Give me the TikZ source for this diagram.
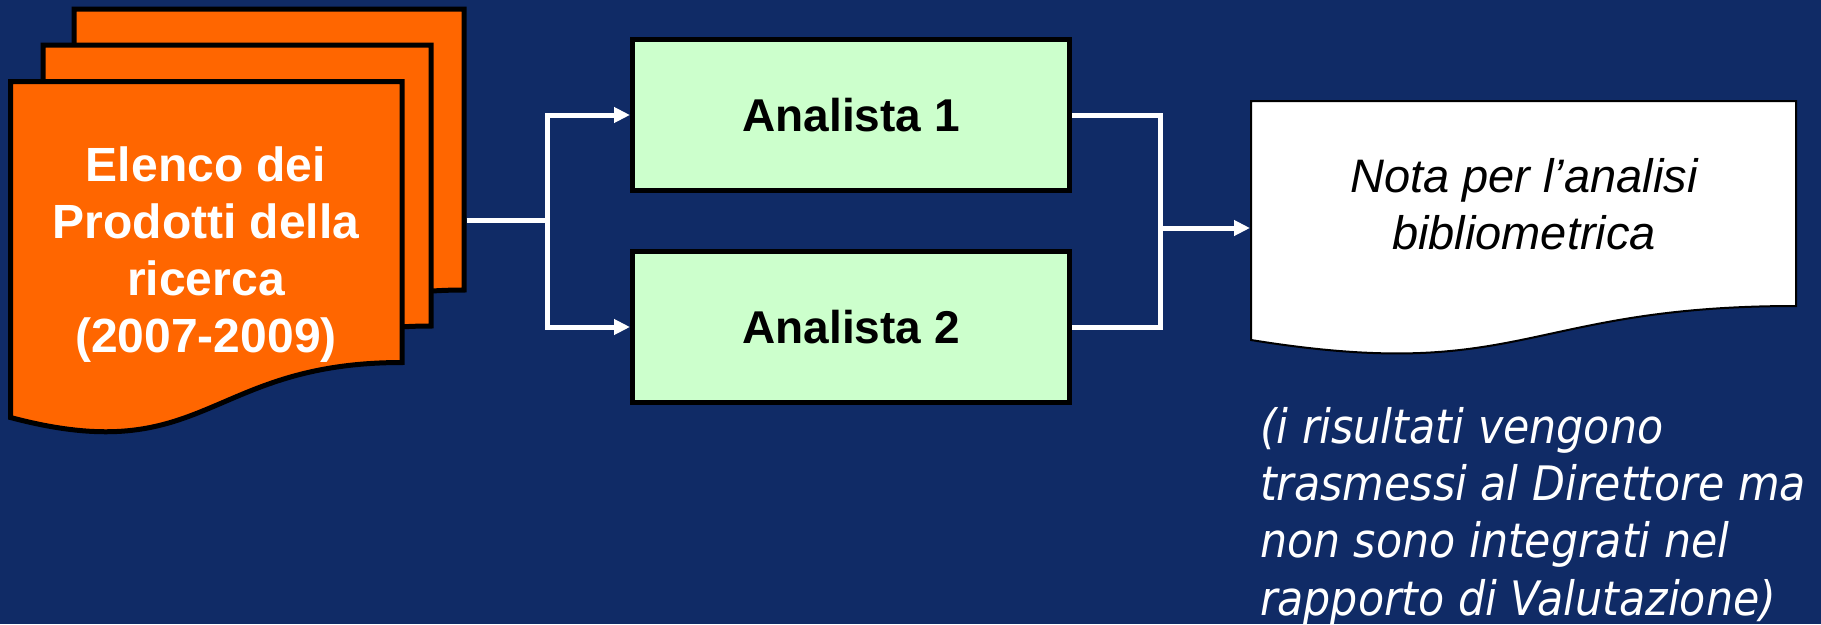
\documentclass[tikz,border=0pt]{standalone}
\usepackage{fontspec}
\setmainfont{Liberation Sans}
\newfontfamily\notefont{DejaVu Sans}[FakeStretch=0.9]
\usetikzlibrary{arrows.meta}
\definecolor{bgblue}{RGB}{16,43,102}
\definecolor{docorange}{RGB}{255,102,0}
\definecolor{boxgreen}{RGB}{204,255,204}
\begin{document}
\begin{tikzpicture}[x=1pt,y=-1pt,
  docshape/.style={fill=docorange, draw=black, line width=5pt, line join=miter},
  notashape/.style={fill=white, draw=black, line width=2pt},
  anbox/.style={draw=black, fill=boxgreen, line width=5pt, minimum width=437pt, minimum height=151pt, inner sep=0pt, outer sep=0pt, font=\fontsize{46}{55}\selectfont\bfseries},
  wline/.style={draw=white, line width=5pt},
  warrow/.style={wline, -{Triangle[length=16pt,width=15pt]}},
  txt/.style={inner sep=0pt, outer sep=0pt}
  ]
\fill[bgblue] (0,0) rectangle (1821,624);
\useasboundingbox (0,0) rectangle (1821,624);
% stacked documents
\path[docshape] (74,9) -- (464,9) -- (464,290) .. controls (269,290) and (269,397) .. (74,345) -- cycle;
\path[docshape] (43,45) -- (431,45) -- (431,326) .. controls (237,326) and (237,433) .. (43,381) -- cycle;
\path[docshape] (10.5,81.5) -- (402,81.5) -- (402,362.5) .. controls (206.25,362.5) and (206.25,469.5) .. (10.5,417.5) -- cycle;
\node[txt, font=\fontsize{48}{56.7}\selectfont\bfseries, text=white, align=center, anchor=base] (elenco) at (206,352) {Elenco dei\\Prodotti della\\ricerca\\(2007-2009)};
% analysts
\node[anbox] (a1) at (851,115) {Analista 1};
\node[anbox] (a2) at (851,327) {Analista 2};
% output document
\path[notashape] (1251,101) -- (1796,101) -- (1796,306) .. controls (1523.5,306) and (1523.5,384) .. (1251,340) -- cycle;
\node[txt, font=\fontsize{47}{57}\selectfont\itshape, align=center, anchor=base] (notatext) at (1524,249) {Nota per l’analisi\\bibliometrica};
% connectors
\coordinate (docR) at (466.5,220);
\coordinate (forkL) at (547,220);
\coordinate (jR) at (1160,228);
\coordinate (notaL) at (1250,228);
\draw[wline] (docR) -- (forkL);
\draw[warrow, shorten >=2.5pt] (forkL) |- (a1.west);
\draw[warrow, shorten >=2.5pt] (forkL) |- (a2.west);
\draw[wline, shorten <=2.5pt, shorten >=2.5pt] (a1.east) -| (jR) |- (a2.east);
\draw[warrow] (jR) -- (notaL);
% note
\node[txt, font=\notefont\fontsize{47.5}{57.3}\selectfont\itshape, text=white, align=left, anchor=base west] (note) at (1260,615) {(i risultati vengono\\trasmessi al Direttore ma\\non sono integrati nel\\rapporto di Valutazione)};
\end{tikzpicture}
\end{document}
